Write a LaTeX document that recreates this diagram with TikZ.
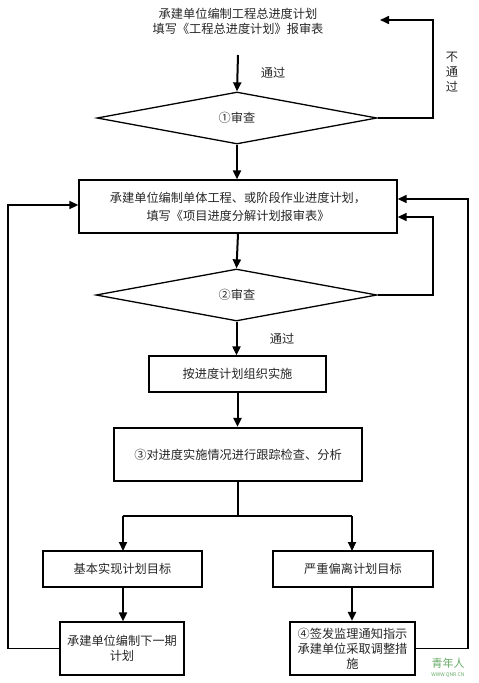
\documentclass[tikz,border=0pt]{standalone}
\usepackage{fontspec}
\newfontfamily\cjk{Noto Sans CJK SC}
\usetikzlibrary{arrows.meta,shapes.geometric}
\begin{document}
\begin{tikzpicture}[x=1pt,y=-1pt,
  font=\cjk\fontsize{12.2}{15}\selectfont,
  every node/.style={text=black!85},
  box/.style={draw=black,line width=1.3pt,rectangle,inner sep=2pt,align=center},
  thickbox/.style={box,line width=2.2pt},
  dia/.style={draw=black,line width=1.3pt,diamond,inner sep=0pt,align=center},
  arr/.style={line width=2pt,-{Triangle[length=9pt,width=8pt]}},
  ln/.style={line width=1.6pt},
  lnarr/.style={line width=1.6pt,-{Triangle[length=9pt,width=8pt]}}]
\useasboundingbox (0,0) rectangle (479,683);
% nodes
\node (top) at (238,21) [align=center,font=\cjk\fontsize{12.2}{15}\selectfont] {承建单位编制工程总进度计划\\填写《工程总进度计划》报审表};
\node (d1) at (237,118) [dia,minimum width=280pt,minimum height=52pt] {};
\node at (237,118) {①审查};
\node (b2) at (238,206.5) [box,minimum width=318pt,minimum height=53pt,font=\cjk\fontsize{12.2}{18}\selectfont] {承建单位编制单体工程、或阶段作业进度计划，\\填写《项目进度分解计划报审表》};
\node (d2) at (236.5,295) [dia,minimum width=281pt,minimum height=52pt] {};
\node at (237,295) {②审查};
\node (b3) at (237.5,374) [box,minimum width=177pt,minimum height=36pt] {按进度计划组织实施};
\node (b4) at (238,454.5) [thickbox,minimum width=248pt,minimum height=53pt] {③对进度实施情况进行跟踪检查、分析};
\node (b5l) at (122.5,569) [box,minimum width=159pt,minimum height=36pt] {基本实现计划目标};
\node (b5r) at (353,569) [box,minimum width=160pt,minimum height=36pt] {严重偏离计划目标};
\node (b6l) at (122,648.5) [box,minimum width=124pt,minimum height=53pt] {承建单位编制下一期\\计划};
\node (b6r) at (352.5,648.5) [thickbox,minimum width=125pt,minimum height=53pt,inner sep=1pt] {④签发监理通知指示\\承建单位采取调整措\\施};
% labels
\node (p1) at (273,73) {通过};
\node (p2) at (282,339) {通过};
\node (np) at (452,72) [align=center,font=\cjk\fontsize{12.2}{15}\selectfont] {不\\通\\过};
\node (wm) at (448,668) [align=center,text=green!45!black!60,font=\cjk\fontsize{11}{11}\selectfont] {青年人\\[-2pt]{\fontsize{5}{6}\selectfont WWW.QNR.CN}};
% coordinates
\coordinate (c1s) at (238,55);
\coordinate (c1e) at (380,20);
\coordinate (sp) at (238,516);
% connectors
\draw[arr] (c1s) -- (d1.north);
\draw[arr] (d1.south) -- (d1.south|-b2.north);
\draw[lnarr] (d1.east) -- (433,118) -- (433,20) -- (c1e);
\draw[arr] (b2.south-|238,0) -- (d2.north);
\draw[lnarr] (d2.east) -- (433,295) |- (b2.east|-0,217);
\draw[arr] (d2.south) -- (d2.south|-b3.north);
\draw[arr] (b3.south) -- (b3.south|-b4.north);
\draw[ln] (b4.south) -- (sp);
\draw[ln] (123,516) -- (352,516);
\draw[arr] (123,516) -- (123,551);
\draw[arr] (352,516) -- (352,551);
\draw[arr] (b5l.south-|123,0) -- (b6l.north-|123,0);
\draw[arr] (b5r.south-|352,0) -- (b6r.north-|352,0);
\draw[lnarr] (b6l.west) -- (8,648.5) -- (8,205) -- (b2.west|-0,205);
\draw[lnarr] (b6r.east) -- (468,648.5) -- (468,199) -- (b2.east|-0,199);
\end{tikzpicture}
\end{document}
